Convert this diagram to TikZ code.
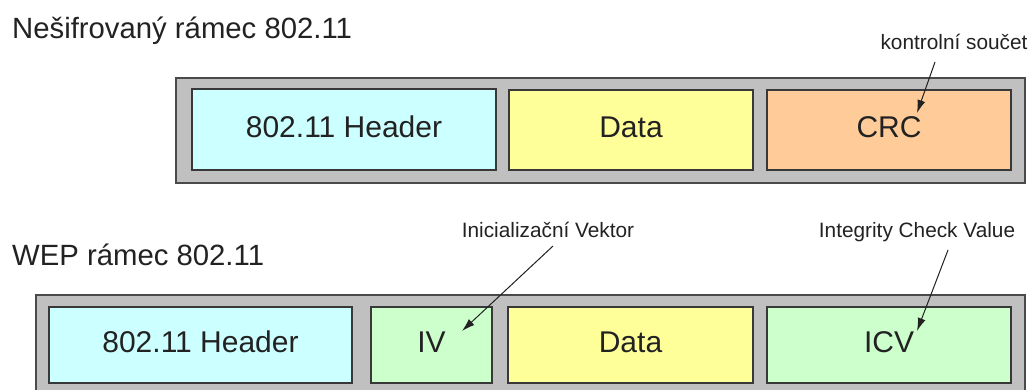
\documentclass[tikz,border=0pt]{standalone}
\usepackage{fontspec}
\setmainfont{Liberation Sans}
\usetikzlibrary{arrows.meta}
\definecolor{framegray}{HTML}{C0C0C0}
\definecolor{framebd}{HTML}{4A4A4A}
\definecolor{hdrcyan}{HTML}{CCFFFF}
\definecolor{datayel}{HTML}{FFFF99}
\definecolor{crcorange}{HTML}{FFCC99}
\definecolor{wepgreen}{HTML}{CCFFCC}
\definecolor{ink}{HTML}{222222}
\tikzset{
  frame/.style={draw=framebd, fill=framegray, line width=1.8pt},
  field/.style={draw=ink!90, line width=1.6pt, inner sep=0pt, text=ink,
    text depth=6pt, font=\fontsize{30}{34}\selectfont},
  title/.style={anchor=base west, inner sep=0pt, text=ink,
    font=\fontsize{29.3}{34}\selectfont},
  note/.style={anchor=base, inner sep=0pt, text=ink,
    font=\fontsize{20.8}{24}\selectfont},
  pointer/.style={draw=ink, line width=1pt,
    -{Latex[length=13pt,width=8pt]}}
}
\begin{document}
\begin{tikzpicture}[x=1pt,y=-1pt]
  \useasboundingbox (0,0) rectangle (1035,390);
  \clip (0,0) rectangle (1035,390);
  \fill[white] (0,0) rectangle (1035,390);

  % plain frame
  \node[title] (t1) at (12,38.5) {Nešifrovaný rámec 802.11};
  \filldraw[frame] (176,78) rectangle (1025,183);
  \node[field, fill=hdrcyan, minimum width=304pt, minimum height=81pt] (h1) at (344,129.5) {802.11 Header};
  \node[field, fill=datayel, minimum width=244pt, minimum height=80pt] (d1) at (631,130) {Data};
  \node[field, fill=crcorange, minimum width=244pt, minimum height=80pt] (c1) at (889,130) {CRC};
  \node[note] (n1) at (954,50) {kontrolní součet};
  \coordinate (n1a) at (935,62);
  \coordinate (n1b) at (917,113);
  \draw[pointer] (n1a) -- (n1b);

  % WEP frame
  \node[title] (t2) at (12,265) {WEP rámec 802.11};
  \filldraw[frame] (36,295) rectangle (1025,400);
  \node[field, fill=hdrcyan, minimum width=303pt, minimum height=76pt] (h2) at (200.5,345) {802.11 Header};
  \node[field, fill=wepgreen, minimum width=121pt, minimum height=76pt] (iv) at (431.5,345) {IV};
  \node[field, fill=datayel, minimum width=245pt, minimum height=76pt] (d2) at (630.5,345) {Data};
  \node[field, fill=wepgreen, minimum width=244pt, minimum height=76pt] (icv) at (889,345) {ICV};
  \node[note] (n2) at (548,237) {Inicializační Vektor};
  \node[note] (n3) at (917,237) {Integrity Check Value};
  \coordinate (n2a) at (553,246);
  \coordinate (n2b) at (462,331);
  \coordinate (n3a) at (948,250);
  \coordinate (n3b) at (917,331);
  \draw[pointer] (n2a) -- (n2b);
  \draw[pointer] (n3a) -- (n3b);
\end{tikzpicture}
\end{document}
